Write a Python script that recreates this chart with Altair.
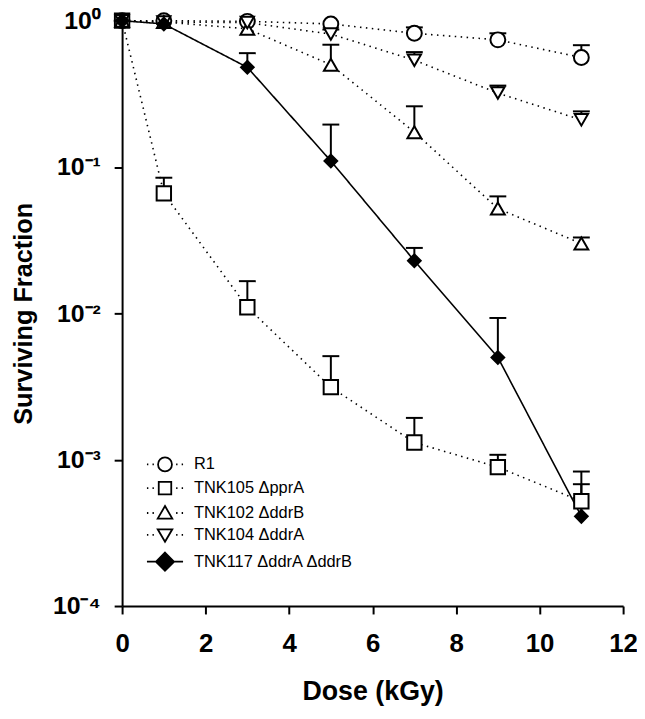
import altair as alt
import pandas as pd

series = ["R1", "TNK105 ΔpprA", "TNK102 ΔddrB", "TNK104 ΔddrA", "TNK117 ΔddrA ΔddrB"]
dose = [0, 1, 3, 5, 7, 9, 11]

r1 = [1.0, 1.0, 0.99, 0.95, 0.82, 0.74, 0.56]
r1_up = [None, None, None, None, 0.90, 0.82, 0.68]

pprA = [1.0, 0.066, 0.0110, 0.00313, 0.00131, 0.00089, 0.00052]
pprA_up = [None, 0.0845, 0.0166, 0.0051, 0.00193, 0.00108, 0.00068]

ddrB = [1.0, 0.98, 0.88, 0.50, 0.173, 0.052, 0.030]
ddrB_up = [None, None, None, 0.685, 0.26, 0.063, 0.033]

ddrA = [1.0, 0.98, 0.97, 0.81, 0.537, 0.32, 0.21]
ddrA_up = [None, None, None, 0.87, 0.61, 0.36, 0.24]

ddrAB = [1.0, 0.95, 0.48, 0.110, 0.0229, 0.0050, 0.00041]
ddrAB_up = [None, None, 0.60, 0.195, 0.028, 0.0093, 0.00083]

all_vals = [r1, pprA, ddrB, ddrA, ddrAB]
all_ups = [r1_up, pprA_up, ddrB_up, ddrA_up, ddrAB_up]

rows = []
for name, vals, ups in zip(series, all_vals, all_ups):
    for d, v, u in zip(dose, vals, ups):
        rows.append({"series": name, "dose": d, "frac": v, "upper": u})
df = pd.DataFrame(rows)

FONT = "Liberation Sans"

x_enc = alt.X(
    "dose:Q",
    scale=alt.Scale(domain=[0, 12], nice=False),
    axis=alt.Axis(
        values=[0, 2, 4, 6, 8, 10, 12], title="Dose (kGy)", grid=False,
        labelFont=FONT, labelFontSize=26, labelFontWeight="bold", labelColor="black",
        titleFont=FONT, titleFontSize=27, titleFontWeight="bold", titleColor="black",
        tickSize=8, tickWidth=2, tickColor="black", domainWidth=2, domainColor="black",
        labelPadding=17, titlePadding=22, labelFlush=False,
    ),
)

def y_enc(field):
    return alt.Y(
        field,
        scale=alt.Scale(type="log", domain=[1e-4, 1], nice=False),
        axis=alt.Axis(
            values=[1, 0.1, 0.01, 0.001, 0.0001], title="Surviving Fraction", grid=False,
            labelExpr="'10' + ['⁰','⁻¹','⁻²','⁻³','⁻⁴'][round(-log(datum.value)/LN10)]",
            labelFont=FONT, labelFontSize=25, labelFontWeight="bold", labelColor="black",
            titleFont=FONT, titleFontSize=25.5, titleFontWeight="bold", titleColor="black",
            tickSize=8, tickWidth=2, tickColor="black", domainWidth=2, domainColor="black",
            labelPadding=14, titlePadding=16, labelFlush=False,
        ),
    )

base = alt.Chart(df)

lines = base.mark_line(color="black").encode(
    x=x_enc,
    y=y_enc("frac:Q"),
    strokeDash=alt.StrokeDash(
        "series:N",
        scale=alt.Scale(domain=series, range=[[1.5, 4.5]] * 4 + [[1, 0]]),
        legend=None,
    ),
    strokeWidth=alt.StrokeWidth(
        "series:N",
        scale=alt.Scale(domain=series, range=[1.6, 1.6, 1.6, 1.6, 1.8]),
        legend=None,
    ),
)

rules = base.transform_filter("isValid(datum.upper)").mark_rule(
    color="black", strokeWidth=2
).encode(x=x_enc, y=y_enc("frac:Q"), y2="upper:Q")

caps = base.transform_filter("isValid(datum.upper)").mark_tick(
    orient="horizontal", size=17, thickness=2, color="black", opacity=1
).encode(x=x_enc, y=y_enc("upper:Q"))

points = base.mark_point(
    filled=True, stroke="black", strokeWidth=2, opacity=1
).encode(
    x=x_enc,
    y=y_enc("frac:Q"),
    shape=alt.Shape(
        "series:N",
        scale=alt.Scale(domain=series, range=["circle", "square", "triangle-up", "triangle-down", "diamond"]),
        legend=None,
    ),
    fill=alt.Fill(
        "series:N",
        scale=alt.Scale(domain=series, range=["white", "white", "white", "white", "black"]),
        legend=None,
    ),
    size=alt.Size(
        "series:N",
        scale=alt.Scale(domain=series, range=[225, 165, 235, 235, 320]),
        legend=None,
    ),
)

dots = "M-2.6,0L-2.4,0M-1.8,0L-1.6,0M1.6,0L1.8,0M2.4,0L2.6,0"
legend_paths = [
    dots + "M1,0A1,1 0 1,1 -1,0A1,1 0 1,1 1,0Z",
    dots + "M-0.9,-0.9L0.9,-0.9L0.9,0.9L-0.9,0.9Z",
    dots + "M0,-1L1.05,0.8L-1.05,0.8Z",
    dots + "M0,1L1.05,-0.8L-1.05,-0.8Z",
    "M-2.6,0L-1.2,0M1.2,0L2.6,0M0,-1.3L1.3,0L0,1.3L-1.3,0Z",
]

leg = alt.Legend(
    title=None, orient="none", legendX=35, legendY=439, padding=0,
    symbolSize=196, symbolStrokeWidth=1.8, symbolStrokeColor="black", symbolOpacity=1,
    labelFont=FONT, labelFontSize=16.5, labelColor="black", labelOffset=21,
    labelLimit=400, rowPadding=3,
)

legend_layer = base.transform_filter("false").mark_point(
    filled=True, strokeWidth=1.8, opacity=1
).encode(
    x=x_enc,
    y=y_enc("frac:Q"),
    shape=alt.Shape("series:N", scale=alt.Scale(domain=series, range=legend_paths), legend=leg),
    fill=alt.Fill(
        "series:N",
        scale=alt.Scale(domain=series, range=["white", "white", "white", "white", "black"]),
        legend=leg,
    ),
    stroke=alt.Stroke(
        "series:N",
        scale=alt.Scale(domain=series, range=["black"] * 5),
        legend=leg,
    ),
)

chart = (
    alt.layer(lines, rules, caps, points, legend_layer)
    .resolve_scale(shape="independent", fill="independent", stroke="independent")
    .resolve_legend(shape="independent", fill="independent", stroke="independent")
    .properties(
        width=505, height=590,
        autosize=alt.AutoSizeParams(type="none"),
        padding={"left": 115, "top": 10, "right": 14, "bottom": 100},
        background="white",
    )
    .configure_view(stroke=None)
)

chart.save("out.html", embed_options={"renderer": "svg", "actions": False})
